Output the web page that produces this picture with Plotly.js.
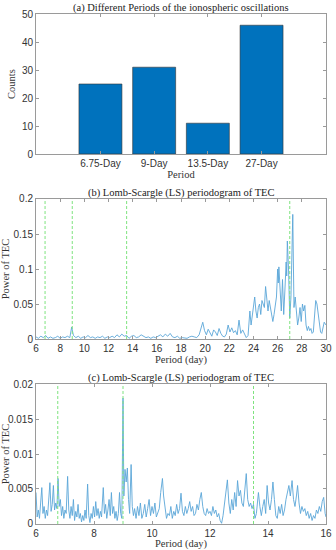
<!DOCTYPE html>
<html>
<head>
<meta charset="utf-8">
<script src="https://cdn.plot.ly/plotly-3.0.1.min.js"></script>
<style>html,body{margin:0;padding:0;background:#fff;}#chart{width:336px;height:550px;}</style>
</head>
<body>
<div id="chart"></div>
<script>
// ---- Panel (a) data ----
var periodCategories = ['6.75-Day', '9-Day', '13.5-Day', '27-Day'];
var periodCounts = [25, 31, 11, 46];

// ---- Reference periods (green dashed lines) ----
var refPeriodsB = [6.75, 9, 13.5, 27];
var refPeriodsC = [6.75, 9, 13.5];

// ---- Panel (b) periodogram, 6-30 days ----
var periodB = [6.0,6.2,6.4,6.6,6.8,7.0,7.2,7.4,7.6,7.8,8.0,8.2,8.4,8.6,8.8,8.95,9.1,9.3,9.5,9.7,9.9,10.1,10.3,10.5,10.7,10.9,11.1,11.3,11.5,11.7,11.9,12.1,12.3,12.5,12.7,12.9,13.1,13.3,13.5,13.7,13.9,14.1,14.3,14.5,14.7,14.9,15.1,15.3,15.5,15.7,15.9,16.1,16.3,16.5,16.7,16.9,17.1,17.3,17.5,17.7,17.9,18.1,18.3,18.5,18.7,18.9,19.1,19.3,19.5,19.7,19.8,19.95,20.1,20.25,20.4,20.55,20.7,20.85,21.0,21.15,21.3,21.45,21.6,21.75,21.9,22.05,22.2,22.35,22.5,22.65,22.8,22.95,23.1,23.25,23.4,23.55,23.7,23.8,23.9,24.0,24.1,24.2,24.3,24.4,24.5,24.6,24.7,24.8,24.9,25.0,25.1,25.2,25.3,25.4,25.5,25.6,25.7,25.8,25.9,26.0,26.05,26.1,26.2,26.3,26.4,26.5,26.6,26.7,26.75,26.8,26.9,27.0,27.1,27.2,27.25,27.3,27.35,27.45,27.55,27.65,27.75,27.85,27.95,28.05,28.15,28.25,28.35,28.45,28.55,28.65,28.75,28.85,28.95,29.05,29.15,29.25,29.35,29.45,29.55,29.65,29.75,29.85,30.0];
var powerB = [0.003,0.001,0.004,0.002,0.005,0.001,0.003,0.001,0.002,0.004,0.001,0.003,0.002,0.004,0.002,0.017,0.005,0.002,0.004,0.001,0.003,0.002,0.005,0.002,0.003,0.001,0.003,0.002,0.004,0.001,0.003,0.002,0.004,0.002,0.006,0.003,0.007,0.004,0.005,0.001,0.004,0.005,0.002,0.003,0.006,0.004,0.002,0.003,0.001,0.003,0.002,0.004,0.006,0.003,0.007,0.004,0.008,0.003,0.002,0.004,0.001,0.002,0.001,0.001,0.003,0.004,0.003,0.002,0.006,0.018,0.024,0.012,0.006,0.014,0.008,0.004,0.013,0.010,0.005,0.015,0.008,0.004,0.003,0.007,0.020,0.010,0.016,0.009,0.012,0.006,0.027,0.008,0.013,0.006,0.002,0.005,0.040,0.020,0.035,0.045,0.060,0.040,0.030,0.045,0.050,0.035,0.055,0.050,0.045,0.075,0.050,0.040,0.055,0.045,0.030,0.025,0.035,0.050,0.060,0.100,0.080,0.103,0.070,0.040,0.085,0.035,0.070,0.110,0.090,0.140,0.100,0.030,0.060,0.120,0.178,0.110,0.045,0.060,0.040,0.020,0.030,0.045,0.025,0.050,0.040,0.048,0.020,0.012,0.018,0.012,0.015,0.008,0.010,0.030,0.055,0.050,0.035,0.020,0.010,0.008,0.015,0.024,0.020];

// ---- Panel (c) periodogram, 6-16 days ----
var periodC = [6.00,6.04,6.08,6.12,6.16,6.20,6.24,6.28,6.32,6.36,6.40,6.44,6.48,6.52,6.56,6.60,6.64,6.68,6.72,6.76,6.80,6.84,6.88,6.92,6.96,7.00,7.04,7.09,7.13,7.17,7.21,7.25,7.29,7.33,7.37,7.41,7.45,7.49,7.53,7.57,7.61,7.65,7.69,7.73,7.78,7.82,7.86,7.90,7.94,7.98,8.02,8.06,8.10,8.14,8.18,8.22,8.26,8.32,8.36,8.40,8.44,8.48,8.52,8.56,8.60,8.64,8.68,8.72,8.76,8.80,8.84,8.88,8.92,8.96,9.00,9.03,9.07,9.11,9.15,9.19,9.23,9.28,9.32,9.36,9.40,9.45,9.50,9.55,9.60,9.65,9.70,9.75,9.80,9.85,9.90,9.95,10.00,10.05,10.10,10.15,10.20,10.25,10.30,10.36,10.40,10.45,10.50,10.55,10.60,10.65,10.70,10.75,10.80,10.85,10.90,10.95,11.00,11.05,11.10,11.15,11.20,11.25,11.30,11.35,11.40,11.45,11.50,11.55,11.60,11.65,11.70,11.75,11.80,11.85,11.90,11.95,12.00,12.05,12.10,12.15,12.20,12.25,12.30,12.35,12.40,12.45,12.50,12.55,12.60,12.65,12.70,12.75,12.80,12.85,12.90,12.95,13.00,13.05,13.10,13.15,13.20,13.25,13.30,13.35,13.40,13.45,13.50,13.55,13.60,13.67,13.72,13.77,13.82,13.87,13.92,13.97,14.02,14.07,14.12,14.17,14.22,14.27,14.32,14.37,14.42,14.47,14.52,14.57,14.62,14.67,14.72,14.77,14.83,14.88,14.93,14.98,15.02,15.07,15.12,15.17,15.22,15.27,15.32,15.37,15.42,15.47,15.52,15.57,15.62,15.67,15.72,15.77,15.82,15.87,15.92,15.97,16.00];
var powerC = [0.0045,0.0010,0.0020,0.0008,0.0030,0.0052,0.0015,0.0025,0.0008,0.0020,0.0012,0.0030,0.0059,0.0018,0.0028,0.0055,0.0020,0.0030,0.0022,0.0065,0.0025,0.0035,0.0012,0.0025,0.0008,0.0020,0.0015,0.0068,0.0020,0.0008,0.0025,0.0012,0.0035,0.0005,0.0018,0.0010,0.0028,0.0008,0.0015,0.0003,0.0012,0.0005,0.0020,0.0008,0.0057,0.0012,0.0002,0.0015,0.0008,0.0025,0.0010,0.0032,0.0012,0.0022,0.0008,0.0018,0.0010,0.0052,0.0015,0.0028,0.0008,0.0020,0.0035,0.0012,0.0045,0.0015,0.0025,0.0008,0.0018,0.0005,0.0015,0.0045,0.0015,0.0008,0.0180,0.0040,0.0078,0.0060,0.0080,0.0035,0.0015,0.0085,0.0025,0.0012,0.0022,0.0008,0.0025,0.0012,0.0030,0.0008,0.0015,0.0028,0.0010,0.0022,0.0035,0.0012,0.0025,0.0015,0.0030,0.0010,0.0018,0.0022,0.0045,0.0065,0.0040,0.0025,0.0008,0.0015,0.0012,0.0025,0.0008,0.0018,0.0012,0.0028,0.0015,0.0022,0.0044,0.0018,0.0012,0.0025,0.0015,0.0022,0.0032,0.0018,0.0025,0.0012,0.0015,0.0028,0.0020,0.0035,0.0045,0.0025,0.0015,0.0012,0.0022,0.0015,0.0018,0.0012,0.0025,0.0015,0.0020,0.0010,0.0015,0.0005,0.0001,0.0012,0.0028,0.0040,0.0063,0.0030,0.0015,0.0035,0.0020,0.0045,0.0025,0.0062,0.0040,0.0048,0.0030,0.0025,0.0045,0.0072,0.0035,0.0025,0.0030,0.0022,0.0028,0.0008,0.0015,0.0045,0.0025,0.0012,0.0025,0.0035,0.0015,0.0055,0.0030,0.0020,0.0035,0.0060,0.0035,0.0012,0.0008,0.0025,0.0015,0.0028,0.0012,0.0020,0.0035,0.0045,0.0055,0.0040,0.0062,0.0035,0.0025,0.0040,0.0055,0.0030,0.0015,0.0025,0.0018,0.0022,0.0012,0.0018,0.0008,0.0015,0.0005,0.0012,0.0008,0.0020,0.0015,0.0025,0.0018,0.0032,0.0038,0.0015,0.0010];

// ---- Text ----
var titleA = '(a) Different Periods of the ionospheric oscillations';
var titleB = '(b) Lomb-Scargle (LS) periodogram of TEC';
var titleC = '(c) Lomb-Scargle (LS) periodogram of TEC';

var serif = 'Liberation Serif, Times New Roman, serif';
var sans = 'Liberation Sans, Arial, sans-serif';
var lineBlue = '#5aa6d8';
var axisGray = '#9a9a9a';
var dashGreen = '#7ee37e';

function axisBase(extra) {
  var a = {
    showline: true, mirror: 'ticks', linecolor: axisGray, linewidth: 1,
    ticks: 'inside', ticklen: 3, tickcolor: axisGray, tickwidth: 1,
    showgrid: false, zeroline: false,
    tickfont: {family: sans, size: 10, color: '#333'}
  };
  for (var k in extra) a[k] = extra[k];
  return a;
}

var traces = [
  {type: 'bar', x: periodCategories, y: periodCounts, xaxis: 'x', yaxis: 'y',
   marker: {color: '#0072BD', line: {color: '#333', width: 0.6}}, hoverinfo: 'x+y'},
  {type: 'scatter', mode: 'lines', x: periodB, y: powerB, xaxis: 'x2', yaxis: 'y2',
   line: {color: lineBlue, width: 0.9}},
  {type: 'scatter', mode: 'lines', x: periodC, y: powerC, xaxis: 'x3', yaxis: 'y3',
   line: {color: lineBlue, width: 0.9}}
];

var shapes = [];
refPeriodsB.forEach(function (p) {
  shapes.push({type: 'line', xref: 'x2', yref: 'y2 domain', x0: p, x1: p, y0: 0, y1: 1,
    line: {color: dashGreen, width: 1, dash: '3px,2px'}});
});
refPeriodsC.forEach(function (p) {
  shapes.push({type: 'line', xref: 'x3', yref: 'y3 domain', x0: p, x1: p, y0: 0, y1: 1,
    line: {color: dashGreen, width: 1, dash: '3px,2px'}});
});

var titleFont = {family: serif, size: 10.5, color: '#222'};
var axTitleFont = {family: serif, size: 10.5, color: '#333'};

var layout = {
  width: 336, height: 550,
  margin: {l: 36, r: 10, t: 0, b: 0},
  paper_bgcolor: '#fff', plot_bgcolor: '#fff',
  showlegend: false,
  bargap: 0.2,
  xaxis: axisBase({domain: [0, 1], anchor: 'y', type: 'category', range: [-1.2, 4.2],
    title: {text: 'Period', font: axTitleFont, standoff: 1}}),
  yaxis: axisBase({domain: [0.72, 0.9745], anchor: 'x', range: [0, 50], dtick: 10,
    title: {text: 'Counts', font: axTitleFont, standoff: 4}}),
  xaxis2: axisBase({domain: [0, 1], anchor: 'y2', range: [6, 30], dtick: 2,
    title: {text: 'Period (day)', font: axTitleFont, standoff: 1}}),
  yaxis2: axisBase({domain: [0.3836, 0.6382], anchor: 'x2', range: [0, 0.2], dtick: 0.05,
    title: {text: 'Power of TEC', font: axTitleFont, standoff: 4}}),
  xaxis3: axisBase({domain: [0, 1], anchor: 'y3', range: [6, 16], dtick: 2,
    title: {text: 'Period (day)', font: axTitleFont, standoff: 1}}),
  yaxis3: axisBase({domain: [0.0473, 0.3018], anchor: 'x3', range: [0, 0.02], dtick: 0.005,
    title: {text: 'Power of TEC', font: axTitleFont, standoff: 4}}),
  shapes: shapes,
  annotations: [
    {text: titleA, xref: 'paper', yref: 'paper', x: 0.5, y: 0.9855, xanchor: 'center', yanchor: 'middle', showarrow: false, font: titleFont},
    {text: titleB, xref: 'paper', yref: 'paper', x: 0.5, y: 0.649, xanchor: 'center', yanchor: 'middle', showarrow: false, font: titleFont},
    {text: titleC, xref: 'paper', yref: 'paper', x: 0.5, y: 0.3127, xanchor: 'center', yanchor: 'middle', showarrow: false, font: titleFont}
  ]
};

Plotly.newPlot('chart', traces, layout, {staticPlot: true, displayModeBar: false});
</script>
</body>
</html>
